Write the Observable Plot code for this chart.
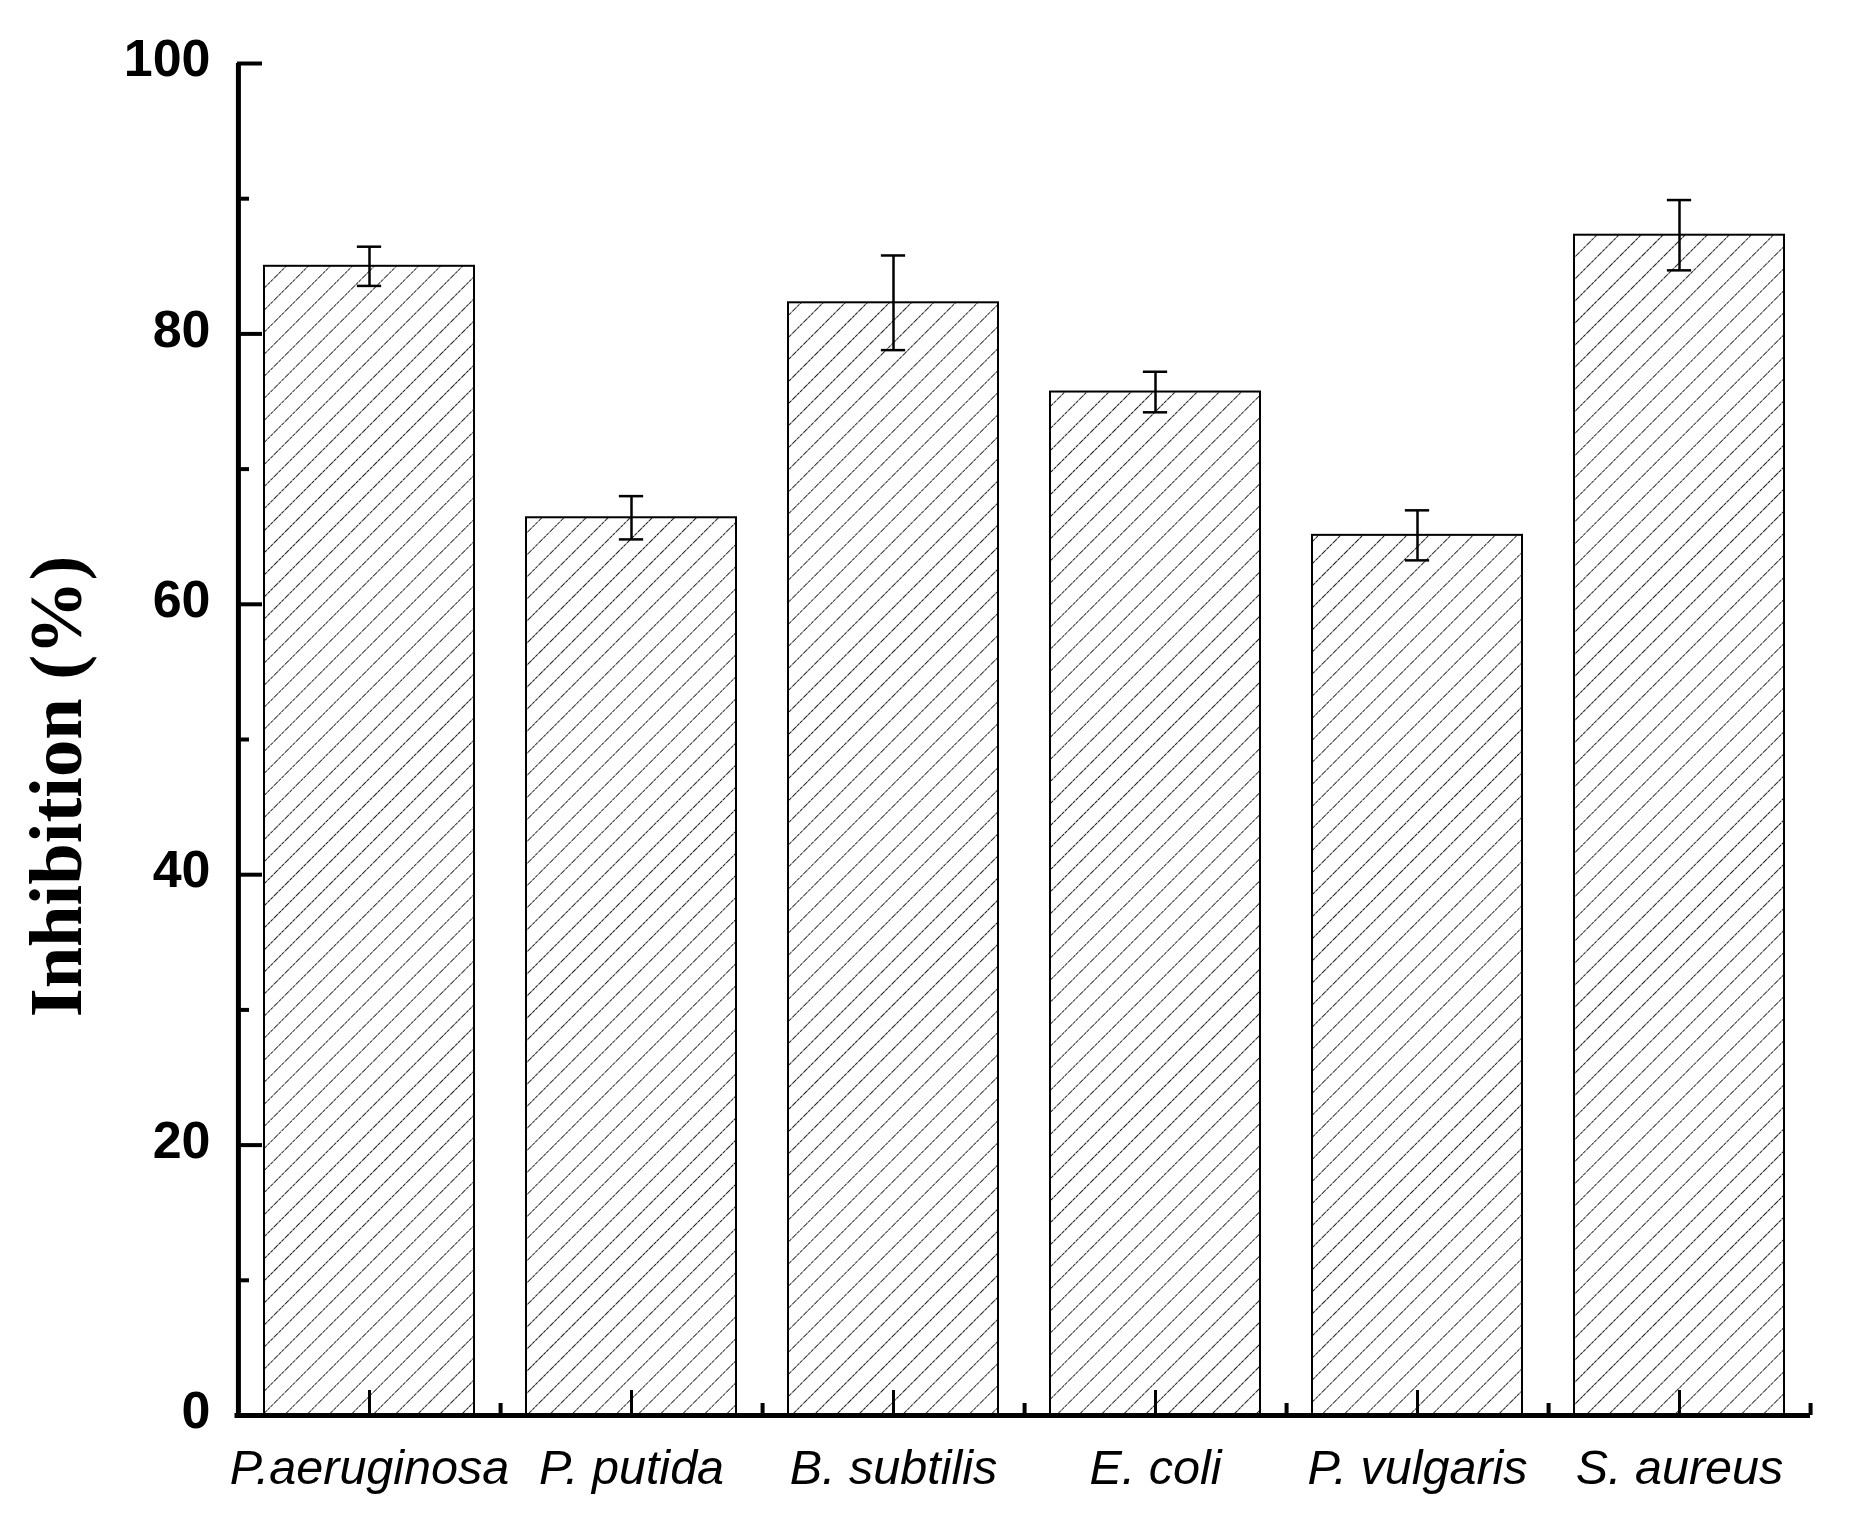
<!DOCTYPE html>
<html>
<head>
<meta charset="utf-8">
<script src="https://cdn.jsdelivr.net/npm/d3@7"></script>
<script src="https://cdn.jsdelivr.net/npm/@observablehq/plot@0.6"></script>
<style>
  html, body { margin: 0; padding: 0; background: #fff; }
  #chart { width: 1855px; height: 1528px; }
</style>
</head>
<body>
<div id="chart"></div>
<script>
// ---- data ----
const categories = ["P.aeruginosa", "P. putida", "B. subtilis", "E. coli", "P. vulgaris", "S. aureus"];
const values = [85.0, 66.4, 82.3, 75.7, 65.1, 87.3];
const errors = [1.45, 1.6, 3.5, 1.5, 1.85, 2.6];
const yMajorTicks = [0, 20, 40, 60, 80, 100];
const yMinorTicks = [10, 30, 50, 70, 90];
const yLabel = "Inhibition (%)";

const data = categories.map((name, i) => ({name, value: values[i], err: errors[i]}));

// ---- layout ----
const W = 1855, H = 1528;
const ml = 237, mr = 45, mt = 63, mb = 113;
const plotW = W - ml - mr, plotH = H - mt - mb;
const step = plotW / categories.length;
const bw = step * 0.8;
const capW = 24;

const svg = Plot.plot({
  width: W,
  height: H,
  marginLeft: ml,
  marginRight: mr,
  marginTop: mt,
  marginBottom: mb,
  style: {background: "#fff", color: "#000", fontFamily: "'Liberation Sans', Arial, sans-serif"},
  x: {type: "band", domain: categories, paddingInner: 0.2, paddingOuter: 0.1, align: 0.5},
  y: {domain: [0, 100]},
  marks: [
    Plot.barY(data, {x: "name", y: "value", fill: "url(#hatch)", stroke: "#000", strokeWidth: 2}),
    Plot.ruleX(data, {x: "name", y1: d => d.value - d.err, y2: d => d.value + d.err, stroke: "#000", strokeWidth: 2.5}),
    Plot.tickY(data, {x: "name", y: d => d.value + d.err, insetLeft: (bw - capW) / 2, insetRight: (bw - capW) / 2, stroke: "#000", strokeWidth: 2.5}),
    Plot.tickY(data, {x: "name", y: d => d.value - d.err, insetLeft: (bw - capW) / 2, insetRight: (bw - capW) / 2, stroke: "#000", strokeWidth: 2.5}),
    // inward y ticks
    Plot.tickY(yMajorTicks, {y: d => d, insetRight: plotW - 25, stroke: "#000", strokeWidth: 4}),
    Plot.tickY(yMinorTicks, {y: d => d, insetRight: plotW - 12, stroke: "#000", strokeWidth: 4}),
    // inward x ticks (centre) and between-category ticks
    Plot.tickX(data, {x: "name", insetTop: plotH - 25, stroke: "#000", strokeWidth: 3}),
    Plot.tickX(data, {x: "name", dx: step / 2, insetTop: plotH - 12, stroke: "#000", strokeWidth: 4}),
    // axis lines
    Plot.ruleY([0], {stroke: "#000", strokeWidth: 5, insetLeft: -2.5}),
    Plot.ruleX([categories[0]], {dx: -step / 2, y1: 0, y2: 100, stroke: "#000", strokeWidth: 5}),
    Plot.axisY({ticks: yMajorTicks, tickSize: 0, tickPadding: 27, fontSize: 52, fontWeight: "bold", dy: -4, label: null}),
    Plot.axisX({tickSize: 0, tickPadding: 34, fontSize: 48.5, fontStyle: "italic", label: null}),
    Plot.text([yLabel], {frameAnchor: "left", textAnchor: "middle", rotate: -90, dx: -180, dy: 47, fontSize: 74.5, fontWeight: "bold",
      fontFamily: "'Liberation Serif', 'Times New Roman', serif", fill: "#000"})
  ]
});

d3.select(svg).insert("defs", ":first-child").html(
  `<pattern id="hatch" patternUnits="userSpaceOnUse" width="15.6" height="15.6" patternTransform="rotate(45)">
     <rect width="15.6" height="15.6" fill="#fff"></rect>
     <line x1="0" y1="0" x2="0" y2="15.6" stroke="#000" stroke-width="1.7" stroke-dasharray="3.5 0.8"></line>
   </pattern>`
);

document.getElementById("chart").appendChild(svg);
</script>
</body>
</html>
